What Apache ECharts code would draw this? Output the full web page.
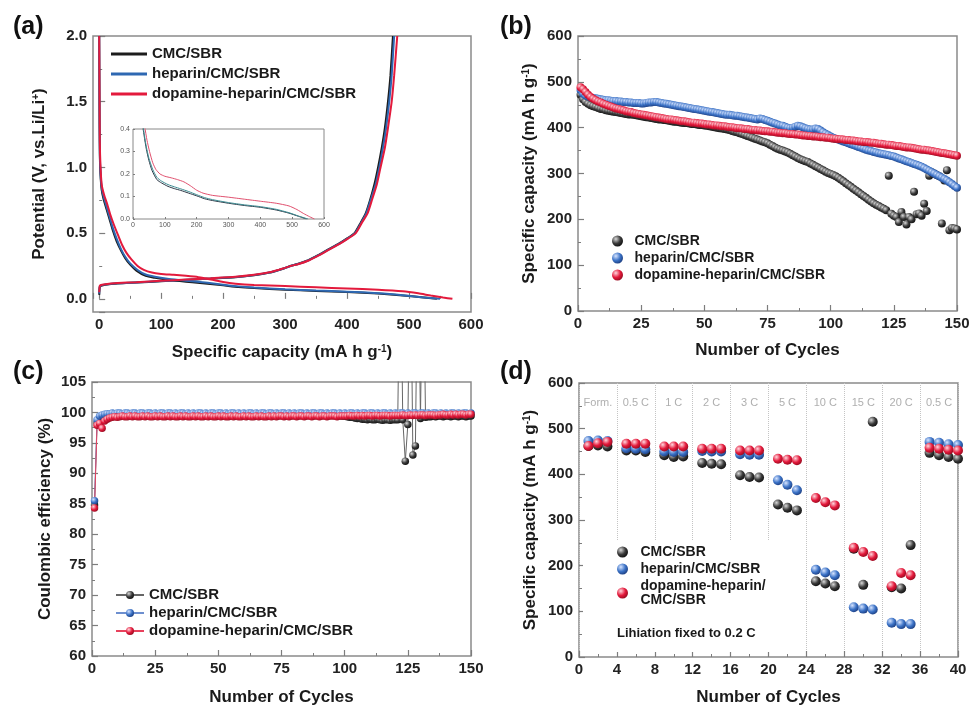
<!DOCTYPE html>
<html>
<head>
<meta charset="utf-8">
<script src="https://cdn.jsdelivr.net/npm/echarts@6/dist/echarts.min.js"></script>
<style>html,body{margin:0;background:#fff}#main{width:973px;height:706px}</style>
</head>
<body>
<div id="main"></div>
<script>
// binder names (same in all four panels)
var binders = ['CMC/SBR', 'heparin/CMC/SBR', 'dopamine-heparin/CMC/SBR'];

// (a) voltage profiles [capacity, potential]
var dchCMC = [[0,2.0],[0.4,1.5],[1,1.1],[2,0.95],[4,0.83],[7,0.76],[12,0.68],[17,0.6],[22,0.52],[28,0.44],[35,0.37],[42,0.31],[50,0.26],[60,0.215],[75,0.175],[90,0.16],[110,0.145],[130,0.135],[150,0.127],[175,0.115],[200,0.103],[225,0.09],[250,0.082],[300,0.07],[350,0.06],[400,0.052],[450,0.04],[490,0.026],[520,0.012],[545,0.0]];
var dchHep = [[0,2.0],[0.4,1.55],[1,1.12],[2,0.97],[4,0.85],[7,0.78],[12,0.7],[17,0.62],[22,0.54],[28,0.46],[35,0.38],[42,0.32],[50,0.27],[62,0.22],[75,0.185],[90,0.168],[110,0.153],[130,0.143],[150,0.134],[175,0.122],[200,0.108],[225,0.095],[250,0.086],[300,0.073],[350,0.063],[400,0.055],[450,0.043],[490,0.028],[520,0.013],[550,0.0]];
var dchDop = [[0,2.0],[0.5,1.6],[1,1.2],[2,1.02],[4,0.87],[8,0.79],[13,0.72],[18,0.64],[24,0.56],[30,0.49],[37,0.41],[44,0.35],[52,0.3],[62,0.25],[72,0.22],[85,0.2],[100,0.19],[120,0.183],[140,0.175],[160,0.165],[180,0.148],[200,0.128],[220,0.115],[250,0.105],[300,0.097],[350,0.088],[400,0.079],[450,0.07],[490,0.058],[515,0.042],[535,0.025],[555,0.01],[570,0.0]];
var chgCMC = [[0,0.03],[0.5,0.07],[1,0.09],[3,0.1],[10,0.108],[30,0.117],[60,0.124],[100,0.134],[140,0.144],[180,0.154],[220,0.165],[250,0.18],[275,0.2],[290,0.22],[300,0.235],[308,0.25],[320,0.265],[335,0.29],[350,0.325],[360,0.35],[375,0.39],[390,0.43],[400,0.46],[412,0.5],[422,0.58],[430,0.65],[437,0.75],[444,0.87],[450,1.0],[456,1.15],[461,1.3],[466,1.5],[470,1.7],[474,2.0]];
var chgHep = [[0,0.04],[0.5,0.08],[1,0.095],[3,0.102],[10,0.109],[30,0.118],[60,0.125],[100,0.135],[140,0.145],[180,0.155],[220,0.166],[250,0.181],[275,0.2],[290,0.22],[300,0.235],[309,0.25],[321,0.265],[336,0.29],[351,0.325],[361,0.35],[376,0.39],[391,0.43],[401,0.46],[413,0.5],[423,0.58],[431,0.65],[438,0.75],[446,0.87],[452,1.0],[458,1.15],[463,1.3],[468,1.5],[472,1.7],[476,2.0]];
var chgDop = [[0,0.05],[0.5,0.085],[1,0.1],[3,0.105],[10,0.112],[30,0.12],[60,0.127],[100,0.137],[140,0.147],[180,0.157],[220,0.168],[250,0.183],[275,0.202],[290,0.222],[300,0.236],[309,0.25],[322,0.265],[337,0.29],[352,0.325],[362,0.35],[377,0.39],[392,0.43],[402,0.46],[414,0.5],[424,0.58],[433,0.65],[440,0.75],[448,0.87],[454,1.0],[461,1.15],[466,1.3],[472,1.5],[476,1.7],[481,2.0]];

// (b) cycling capacity, cycles 1..150
var capCMC = [472,462,456,452,449,447,445,443,441,440, 438,437,436,435,434,433,432,431,430,429,
  429,428,427,426,425,424,423,422,421,420, 419,418,418,417,416,415,414,413,413,412,
  411,410,410,409,408,408,407,406,406,405, 404,403,402,401,400,399,398,397,396,395,
  393,391,390,388,386,384,382,380,378,376, 374,372,370,368,366,363,360,357,354,352,
  350,348,346,343,340,337,334,331,329,327, 325,322,319,316,313,310,307,304,301,299,
  297,294,291,287,283,279,275,271,267,263, 259,255,251,247,243,239,235,232,229,226,
  223,220,295,212,208,205,194,216,205,189, 205,200,260,211,213,208,234,218,295,303,
  300,297,294,191,285,307,176,181,180,178];
var capHep = [482,474,470,468,466,465,464,463,462,461, 460,460,459,458,458,457,457,456,456,455,
  455,454,454,454,453,453,454,455,455,456, 456,455,454,453,452,451,450,449,448,447,
  446,445,444,443,442,441,440,439,438,437, 436,435,434,433,432,431,430,429,428,428,
  427,426,426,425,424,423,422,421,420,419, 418,420,419,417,415,413,411,409,407,405,
  404,402,400,399,400,402,404,403,401,399, 397,396,396,398,397,394,390,387,384,381,
  378,376,374,372,370,368,366,364,362,360, 358,356,354,352,350,349,347,346,344,343,
  342,341,340,338,337,335,333,331,329,327, 325,323,321,319,317,315,312,309,306,303,
  300,297,294,291,288,285,281,277,273,269];
var capDop = [488,484,478,472,467,463,460,457,455,452, 450,448,446,444,442,441,439,438,436,435,
  434,432,431,430,429,428,427,426,425,424, 423,422,421,420,419,418,418,417,416,415,
  414,414,413,412,411,411,410,409,409,408, 407,407,406,405,405,404,403,403,402,401,
  401,400,399,399,398,397,397,396,395,395, 394,394,393,392,392,391,391,390,389,389,
  388,388,387,386,386,385,385,384,383,383, 382,382,381,381,380,379,379,378,378,377,
  376,376,375,375,374,373,373,372,372,371, 370,370,369,369,368,367,367,366,365,365,
  364,363,363,362,361,360,360,359,358,357, 357,356,355,354,353,352,352,351,350,349,
  348,347,346,345,344,343,342,341,340,339];

// (c) coulombic efficiency (%), cycles 1..150
var ceCMC = [84.8,98.3,99.0,99.3,99.5,99.6,99.6,99.7,99.6,99.7, 99.7,99.6,99.7,99.6,99.7,99.7,99.6,99.7,99.6,99.7,
  99.6,99.7,99.6,99.6,99.7,99.6,99.7,99.6,99.6,99.7, 99.7,99.6,99.6,99.7,99.6,99.7,99.6,99.6,99.7,99.6,
  99.7,99.6,99.6,99.7,99.6,99.6,99.7,99.6,99.7,99.6, 99.6,99.7,99.6,99.6,99.7,99.6,99.6,99.7,99.6,99.6,
  99.7,99.6,99.6,99.7,99.6,99.6,99.7,99.6,99.6,99.7, 99.6,99.6,99.7,99.6,99.7,99.6,99.6,99.7,99.6,99.6,
  99.7,99.6,99.6,99.7,99.6,99.6,99.7,99.6,99.6,99.7, 99.6,99.6,99.7,99.6,99.6,99.5,99.6,99.5,99.4,99.4,
  99.3,99.2,99.2,99.1,99.0,99.0,98.9,98.9,98.8,98.9, 98.8,98.8,98.9,98.8,98.7,98.8,98.8,98.7,98.8,98.8,
  98.8,130,98.8,92.0,98.0,130,93.0,94.5,130,99.0, 130,99.2,99.3,99.3,99.4,99.3,99.4,99.4,99.3,99.4,
  99.4,99.3,99.4,99.4,99.3,99.4,99.4,99.3,99.4,99.4];
var ceHep = [85.5,98.8,99.4,99.6,99.7,99.8,99.8,99.9,99.8,99.9, 99.9,99.8,99.9,99.9,99.8,99.9,99.9,99.8,99.9,99.9,
  99.8,99.9,99.9,99.8,99.9,99.8,99.9,99.9,99.8,99.9, 99.9,99.8,99.9,99.8,99.9,99.9,99.8,99.9,99.8,99.9,
  99.8,99.9,99.9,99.8,99.9,99.8,99.9,99.9,99.8,99.9, 99.9,99.8,99.9,99.8,99.9,99.9,99.8,99.9,99.8,99.9,
  99.8,99.9,99.9,99.8,99.9,99.8,99.9,99.9,99.8,99.9, 99.9,99.8,99.9,99.8,99.9,99.9,99.8,99.9,99.8,99.9,
  99.8,99.9,99.9,99.8,99.9,99.8,99.9,99.9,99.8,99.9, 99.9,99.8,99.9,99.8,99.9,99.9,99.8,99.9,99.8,99.9,
  99.8,99.9,99.9,99.8,99.9,99.8,99.9,99.9,99.8,99.9, 99.9,99.8,99.9,99.8,99.9,99.9,99.8,99.9,99.8,99.9,
  99.8,99.9,99.9,99.8,99.9,99.8,99.9,99.9,99.8,99.9, 99.9,99.8,99.9,99.8,99.9,99.9,99.8,99.9,99.8,99.9,
  99.8,99.9,99.9,99.8,99.9,99.8,99.9,99.9,99.8,99.9];
var ceDop = [84.3,97.9,98.2,97.4,98.6,98.9,99.1,99.2,99.3,99.2, 99.3,99.4,99.3,99.3,99.4,99.3,99.4,99.3,99.3,99.4,
  99.3,99.4,99.3,99.3,99.4,99.3,99.4,99.3,99.3,99.4, 99.3,99.4,99.3,99.3,99.4,99.3,99.4,99.3,99.3,99.4,
  99.3,99.4,99.3,99.3,99.4,99.3,99.4,99.3,99.3,99.4, 99.3,99.4,99.3,99.3,99.4,99.3,99.4,99.3,99.3,99.4,
  99.3,99.4,99.3,99.3,99.4,99.3,99.4,99.3,99.3,99.4, 99.3,99.4,99.3,99.4,99.4,99.3,99.4,99.3,99.4,99.4,
  99.3,99.4,99.4,99.3,99.4,99.4,99.3,99.4,99.4,99.3, 99.4,99.4,99.3,99.4,99.4,99.4,99.3,99.4,99.4,99.4,
  99.4,99.5,99.4,99.4,99.5,99.4,99.5,99.4,99.5,99.5, 99.4,99.5,99.5,99.4,99.5,99.5,99.5,99.4,99.5,99.5,
  99.5,99.5,99.6,99.5,99.5,99.6,99.5,99.6,99.5,99.6, 99.6,99.5,99.6,99.6,99.6,99.5,99.6,99.6,99.7,99.6,
  99.6,99.7,99.6,99.7,99.6,99.7,99.7,99.6,99.7,99.7];

// (d) rate capability, cycles 1..40 (null = C-rate change)
var rateBands = ['Form.', '0.5 C', '1 C', '2 C', '3 C', '5 C', '10 C', '15 C', '20 C', '0.5 C'];
var rateCMC = [462,463,461,null, 452,452,449,null, 442,438,439,null, 425,423,422,null, 398,394,393,null,
  334,327,321,null, 166,161,155,null, 237,158,515,null, 153,150,245,null, 447,442,438,434];
var rateHep = [473,474,473,null, 457,456,455,null, 450,449,449,null, 451,450,450,null, 444,443,443,null,
  387,377,365,null, 191,185,179,null, 109,106,104,null, 75,72,72,null, 471,469,466,464];
var rateDop = [462,468,471,null, 467,467,467,null, 461,461,461,null, 456,456,456,null, 452,452,452,null,
  434,432,431,null, 348,339,332,null, 239,230,221,null, 155,184,179,null, 458,456,454,452];

var F = "'Liberation Sans', Arial, sans-serif";
var lineCol = ['#1c1c1c', '#2e68b2', '#e31a3c'];
var insetCol = ['#2b3645', '#3e8c92', '#e0506e'];
var tickCol = '#7d7d7d';

function ball(hi, mid, lo) {
    return { type: 'radial', x: 0.35, y: 0.32, r: 0.75,
        colorStops: [{ offset: 0, color: hi }, { offset: 0.55, color: mid }, { offset: 1, color: lo }] };
}
var balls = [ball('#d8d8d8', '#3a3a3a', '#0c0c0c'), ball('#d6e4ff', '#3b72c6', '#1a3a7c'), ball('#ffd6dd', '#e4193b', '#8f0a1e')];

function pairs(xs, ys) {
    return xs.map(function (x, i) { return [x, ys[i]]; });
}
var cyc150 = capCMC.map(function (v, i) { return i + 1; });
var cyc40 = rateCMC.map(function (v, i) { return i + 1; });

function axis(grid, o) {
    return {
        type: 'value', gridIndex: grid, min: o.min, max: o.max, interval: o.interval, splitNumber: o.splitNumber,
        name: o.name, nameLocation: 'middle', nameGap: o.gap,
        nameTextStyle: { color: '#1a1a1a', fontSize: 17, fontWeight: 'bold', fontFamily: F,
            rich: { s: { fontSize: 10, fontWeight: 'bold', fontFamily: F, color: '#1a1a1a', verticalAlign: 'top' } } },
        axisLine: { show: false },
        axisTick: { show: true, inside: true, length: 6, lineStyle: { color: tickCol, width: 1.2 } },
        minorTick: { show: true, splitNumber: 2, length: 3, lineStyle: { color: tickCol, width: 1 } },
        splitLine: o.split || { show: false },
        axisLabel: { color: '#222', fontSize: 15, fontWeight: 'bold', fontFamily: F, margin: o.margin || 6,
            showMinLabel: o.showMin, formatter: o.fmt }
    };
}
function insetAxis(o) {
    return {
        type: 'value', gridIndex: 4, min: o.min, max: o.max, interval: o.interval,
        axisLine: { show: false },
        axisTick: { show: true, inside: true, length: 2, lineStyle: { color: tickCol } },
        splitLine: { show: false },
        axisLabel: { color: '#555', fontSize: 7, fontFamily: F, margin: 3, formatter: o.fmt }
    };
}
function strip(n) { return n.replace(/ \([a-d]\)$/, ''); }
function legend(o) {
    return {
        orient: 'vertical', left: o.left, top: o.top, padding: 0, itemGap: o.gap,
        itemWidth: o.w, itemHeight: o.h, icon: o.icon, data: o.data,
        formatter: o.fmt || strip,
        textStyle: { color: '#1a1a1a', fontSize: o.fs, fontWeight: 'bold', fontFamily: F }
    };
}

var series = [];
var dch = [dchCMC, dchHep, dchDop], chg = [chgCMC, chgHep, chgDop];
var capB = [capCMC, capHep, capDop], ceC = [ceCMC, ceHep, ceDop], rateD = [rateCMC, rateHep, rateDop];

binders.forEach(function (b, i) {
    // (a) discharge + charge, and the inset
    [dch[i], chg[i]].forEach(function (d) {
        series.push({ name: b + ' (a)', type: 'line', xAxisIndex: 0, yAxisIndex: 0, data: d,
            symbol: 'none', smooth: 0.2, lineStyle: { color: lineCol[i], width: 2 }, itemStyle: { color: lineCol[i] } });
    });
    series.push({ name: 'inset ' + b, type: 'line', xAxisIndex: 4, yAxisIndex: 4, data: dch[i],
        symbol: 'none', smooth: 0.2, lineStyle: { color: insetCol[i], width: 1 } });
    // (b)
    series.push({ name: b + ' (b)', type: 'scatter', xAxisIndex: 1, yAxisIndex: 1, data: pairs(cyc150, capB[i]),
        symbolSize: 8, itemStyle: { color: balls[i], opacity: 1 } });
    // (c)
    series.push({ name: b + ' (c)', type: 'line', xAxisIndex: 2, yAxisIndex: 2, data: pairs(cyc150, ceC[i]),
        symbol: 'circle', symbolSize: 7.5, showAllSymbol: true,
        lineStyle: { color: ['#666', '#6d8fcf', '#e8415c'][i], width: 1 }, itemStyle: { color: balls[i] } });
    // (d)
    series.push({ name: b + ' (d)', type: 'scatter', xAxisIndex: 3, yAxisIndex: 3, data: pairs(cyc40, rateD[i]),
        symbolSize: 10, itemStyle: { color: balls[i], opacity: 1 } });
});

// C-rate labels in (d)
series.push({ name: 'bands', type: 'scatter', xAxisIndex: 3, yAxisIndex: 3, symbolSize: 0, silent: true,
    data: rateBands.map(function (n, i) { return { name: n, value: [4 * i + 2, 556] }; }),
    label: { show: true, position: 'inside', formatter: '{b}', color: '#9a9a9a', fontSize: 11, fontFamily: F } });

var myChart = echarts.init(document.getElementById('main'));
var gridBox = { show: true, borderColor: '#8a8a8a', borderWidth: 1.5, backgroundColor: 'transparent', outerBoundsMode: 'none' };
var option = {
    animation: false,
    backgroundColor: '#fff',
    grid: [
        Object.assign({ left: 93, top: 36, width: 378, height: 276 }, gridBox),
        Object.assign({ left: 578, top: 36, width: 379, height: 275 }, gridBox),
        Object.assign({ left: 92, top: 382, width: 379, height: 274 }, gridBox),
        Object.assign({ left: 579, top: 383, width: 379, height: 274 }, gridBox),
        { show: true, left: 133, top: 129, width: 191, height: 90, borderColor: '#888', borderWidth: 1, backgroundColor: '#fff', outerBoundsMode: 'none' }
    ],
    xAxis: [
        axis(0, { min: -10, max: 600, splitNumber: 6, showMin: false, gap: 32, margin: 5, name: 'Specific capacity (mA h g{s|-1})' }),
        axis(1, { min: 0, max: 150, interval: 25, gap: 31, margin: 5, name: 'Number of Cycles' }),
        axis(2, { min: 0, max: 150, interval: 25, gap: 33, margin: 5, name: 'Number of Cycles' }),
        axis(3, { min: 0, max: 40, interval: 4, gap: 32, margin: 5, name: 'Number of Cycles',
            split: { show: true, lineStyle: { color: '#c4c4c4', type: 'dotted', width: 1 } } }),
        insetAxis({ min: 0, max: 600, interval: 100 })
    ],
    yAxis: [
        axis(0, { min: -0.1, max: 2.0, splitNumber: 4, showMin: false, gap: 45, name: 'Potential (V, vs.Li/Li{s|+})',
            fmt: function (v) { return v.toFixed(1); } }),
        axis(1, { min: 0, max: 600, interval: 100, gap: 40, name: 'Specific capacity (mA h g{s|-1})' }),
        axis(2, { min: 60, max: 105, interval: 5, gap: 38, name: 'Coulombic efficiency (%)' }),
        axis(3, { min: 0, max: 600, interval: 100, gap: 40, name: 'Specific capacity (mA h g{s|-1})' }),
        insetAxis({ min: 0, max: 0.4, interval: 0.1, fmt: function (v) { return v.toFixed(1); } })
    ],
    legend: [
        legend({ left: 111, top: 46.5, gap: 5, w: 36, h: 3, fs: 15, icon: 'rect', data: binders.map(function (b) { return b + ' (a)'; }) }),
        legend({ left: 612, top: 234, gap: 3, w: 24, h: 11, fs: 14, icon: 'circle', data: binders.map(function (b) { return b + ' (b)'; }) }),
        legend({ left: 115, top: 587.5, gap: 3, w: 28, h: 10, fs: 15, data: binders.map(function (b) { return b + ' (c)'; }) }),
        legend({ left: 617, top: 545, gap: 3, w: 26, h: 11, fs: 14, icon: 'circle', data: binders.map(function (b) { return b + ' (d)'; }),
            fmt: function (n) { return strip(n).replace('dopamine-heparin/', 'dopamine-heparin/\n'); } })
    ],
    graphic: [
        { type: 'rect', z: 1, shape: { x: 583, y: 540, width: 222, height: 112 }, style: { fill: '#fff' } },
        { type: 'text', z: 10, x: 617, y: 627, style: { text: 'Lihiation fixed to 0.2 C', font: 'bold 13px ' + F, fill: '#1a1a1a' } },
        { type: 'text', z: 10, x: 13, y: 15, style: { text: '(a)', font: 'bold 25px ' + F, fill: '#111' } },
        { type: 'text', z: 10, x: 500, y: 15, style: { text: '(b)', font: 'bold 25px ' + F, fill: '#111' } },
        { type: 'text', z: 10, x: 13, y: 360, style: { text: '(c)', font: 'bold 25px ' + F, fill: '#111' } },
        { type: 'text', z: 10, x: 500, y: 360, style: { text: '(d)', font: 'bold 25px ' + F, fill: '#111' } }
    ],
    series: series
};
myChart.setOption(option);
</script>
</body>
</html>
